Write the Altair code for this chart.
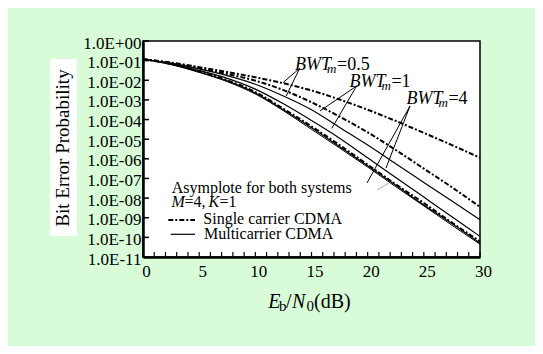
import altair as alt
import pandas as pd

# ---------------- data (log10 of bit error probability) ----------------
ebn0_db = [0, 2.5, 5, 7.5, 10, 12.5, 15, 17.5, 20, 22.5, 25, 27.5, 30]
sc_bwt05 = [-0.93, -1.10, -1.33, -1.58, -1.85, -2.15, -2.52, -2.98, -3.50, -4.07, -4.68, -5.30, -5.95]
sc_bwt1 = [-0.93, -1.12, -1.38, -1.68, -2.02, -2.50, -3.12, -3.85, -4.65, -5.55, -6.50, -7.45, -8.45]
mc_bwt05 = [-0.93, -1.13, -1.42, -1.76, -2.20, -2.80, -3.50, -4.40, -5.30, -6.25, -7.20, -8.15, -9.10]
mc_bwt1 = [-0.93, -1.15, -1.50, -1.90, -2.45, -3.20, -4.05, -4.95, -5.95, -6.95, -7.95, -8.95, -9.95]
sc_bwt4 = [-0.93, -1.17, -1.55, -2.00, -2.60, -3.45, -4.35, -5.30, -6.30, -7.30, -8.25, -9.25, -10.20]
mc_bwt4 = [-0.93, -1.18, -1.57, -2.03, -2.65, -3.50, -4.42, -5.38, -6.35, -7.35, -8.35, -9.30, -10.30]
asymptote = [-0.93, -1.20, -1.60, -2.07, -2.70, -3.55, -4.50, -5.45, -6.42, -7.42, -8.40, -9.38, -10.35]

y_ticks = [0, -1, -2, -3, -4, -5, -6, -7, -8, -9, -10, -11]
y_tick_labels = ["1.0E+00", "1.0E-01", "1.0E-02", "1.0E-03", "1.0E-04", "1.0E-05",
                 "1.0E-06", "1.0E-07", "1.0E-08", "1.0E-09", "1.0E-10", "1.0E-11"]
x_ticks = [0, 5, 10, 15, 20, 25, 30]
x_minor_ticks = list(range(0, 31))

# BWT_m annotations (anchor in data coordinates) and pointer segments
bwt_x = [13.53, 18.38, 23.45]
bwt_y = [-1.48, -2.36, -3.21]
bwt_val = ["=0.5", "=1", "=4"]
ptr_x = [13.95, 13.95, 19.02, 19.02, 23.77, 23.77]
ptr_y = [-1.39, -1.39, -2.29, -2.29, -3.31, -3.31]
ptr_x2 = [12.46, 12.75, 15.76, 16.80, 19.94, 21.63]
ptr_y2 = [-2.12, -2.80, -3.56, -4.45, -7.23, -6.47]
asym_ptr = {"x": [20.83], "y": [-7.59], "x2": [21.90], "y2": [-7.23]}

FONT = "Liberation Serif"
W, H = 337, 216

# ---------------- tables ----------------
def frame(names, series):
    rows = []
    for n, s in zip(names, series):
        for x, v in zip(ebn0_db, s):
            rows.append({"x": x, "y": v, "series": n})
    return pd.DataFrame(rows)

sc_df = frame(["SC 0.5", "SC 1", "SC 4"], [sc_bwt05, sc_bwt1, sc_bwt4])
mc_df = frame(["MC 0.5", "MC 1", "MC 4"], [mc_bwt05, mc_bwt1, mc_bwt4])
as_df = frame(["Asymptote"], [asymptote])
bwt_df = pd.DataFrame({"x": bwt_x, "y": bwt_y, "val": bwt_val})
ptr_df = pd.DataFrame({"x": ptr_x, "y": ptr_y, "x2": ptr_x2, "y2": ptr_y2})
asym_ptr_df = pd.DataFrame(asym_ptr)
yt_df = pd.DataFrame({"y": y_ticks})
xt_df = pd.DataFrame({"x": x_minor_ticks})
one = pd.DataFrame({"a": [0]})

xs = alt.Scale(domain=[0, 30], nice=False, zero=False)
ys = alt.Scale(domain=[-11, 0], nice=False, zero=False)

label_js = "[" + ",".join("'" + s + "'" for s in y_tick_labels) + "]"

x_axis = alt.Axis(values=x_ticks, ticks=False, grid=False, title=None, domainColor="black",
                  domainWidth=2.5, labelFont=FONT, labelFontSize=17, labelColor="black",
                  labelPadding=6, labelOffset=3, labelFlush=False, labelOverlap=False)
y_axis = alt.Axis(values=y_ticks, ticks=False, grid=False, title=None, domainColor="black",
                  domainWidth=2.5, labelFont=FONT, labelFontSize=17, labelColor="black",
                  labelPadding=2, labelOffset=2, labelFlush=False, labelOverlap=False,
                  labelExpr=label_js + "[round(-datum.value)]")

X = alt.X("x:Q", scale=xs, axis=x_axis)
Y = alt.Y("y:Q", scale=ys, axis=y_axis)

sc_lines = alt.Chart(sc_df).mark_line(color="black", strokeWidth=2, strokeDash=[5, 2, 2, 2],
                                      interpolate="monotone").encode(x=X, y=Y, detail="series:N")
mc_lines = alt.Chart(mc_df).mark_line(color="black", strokeWidth=1.2,
                                      interpolate="monotone").encode(x=X, y=Y, detail="series:N")
as_line = alt.Chart(as_df).mark_line(color="black", strokeWidth=1,
                                     interpolate="monotone").encode(x=X, y=Y)

y_tk = alt.Chart(yt_df).mark_rule(color="black", strokeWidth=1.5).encode(
    y=Y, x=alt.value(0), x2=alt.value(6))
x_tk = alt.Chart(xt_df).mark_rule(color="black", strokeWidth=1.2).encode(
    x=X, y=alt.value(H), y2=alt.value(H - 5))

ptr = alt.Chart(ptr_df).mark_rule(color="black", strokeWidth=1).encode(
    x=X, y=Y, x2="x2:Q", y2="y2:Q")
aptr = alt.Chart(asym_ptr_df).mark_rule(color="#aaaaaa", strokeWidth=1).encode(
    x=X, y=Y, x2="x2:Q", y2="y2:Q")

bwt_main = alt.Chart(bwt_df).mark_text(font=FONT, fontStyle="italic", fontSize=18, align="left",
                                      baseline="alphabetic", color="black").encode(
    x=X, y=Y, text=alt.value("BWT"))
bwt_sub = alt.Chart(bwt_df).mark_text(font=FONT, fontStyle="italic", fontSize=13, align="left",
                                     baseline="alphabetic", color="black", dx=32, dy=3).encode(
    x=X, y=Y, text=alt.value("m"))
bwt_eq = alt.Chart(bwt_df).mark_text(font=FONT, fontSize=18, align="left",
                                    baseline="alphabetic", color="black", dx=42).encode(
    x=X, y=Y, text="val:N")


def txt(s, x, y, size=16, style="normal", angle=0, align="left", baseline="alphabetic", color="black"):
    kw = dict(font=FONT, fontSize=size, fontStyle=style, align=align, baseline=baseline, color=color)
    if angle:
        kw["angle"] = angle
    return alt.Chart(one).mark_text(**kw).encode(x=alt.value(x), y=alt.value(y), text=alt.value(s))


# y title with white box
ybox = alt.Chart(one).mark_rect(color="white").encode(
    x=alt.value(-93), x2=alt.value(-66), y=alt.value(18), y2=alt.value(195))
ytitle = txt("Bit Error Probability", -80, 107, size=19, angle=270, align="center", baseline="middle")

# x title pieces
xt = [
    txt("E", 125.3, 267, size=20, style="italic"),
    txt("b", 136, 270, size=15),
    txt("/", 143, 267, size=20),
    txt("N", 149, 267, size=20, style="italic"),
    txt("0", 163.5, 270, size=15),
    txt("(dB)", 171, 267, size=20),
]

# legend block
leg = [
    txt("Asymplote for both systems", 28.7, 152, size=16),
    txt("M", 28.5, 166, size=16, style="italic"),
    txt("=4,", 41.5, 166, size=16),
    txt("K", 65.5, 166, size=16, style="italic"),
    txt("=1", 76.5, 166, size=16),
    txt("Single carrier CDMA", 60.3, 183, size=16),
    txt("Multicarrier CDMA", 61, 198.3, size=16),
]
leg_sc = alt.Chart(one).mark_rule(color="black", strokeWidth=2, strokeDash=[5, 2, 2, 2]).encode(
    x=alt.value(25.3), x2=alt.value(52), y=alt.value(179))
leg_mc = alt.Chart(one).mark_rule(color="black", strokeWidth=1.2).encode(
    x=alt.value(27.7), x2=alt.value(52), y=alt.value(193.3))

chart = alt.layer(
    ybox, ytitle, sc_lines, mc_lines, as_line, y_tk, x_tk, ptr, aptr,
    bwt_main, bwt_sub, bwt_eq, *xt, *leg, leg_sc, leg_mc
).properties(
    width=W, height=H,
    autosize=alt.AutoSizeParams(type="none"),
    padding={"left": 135, "top": 33, "right": 55, "bottom": 89},
    background="#d8fcd8",
).configure_view(
    stroke="black", strokeWidth=1.5, fill="white"
)

chart.save("out.html", embed_options={"renderer": "svg", "actions": False})
